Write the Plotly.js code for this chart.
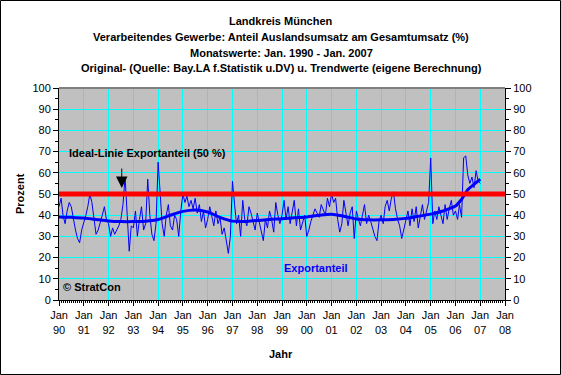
<!DOCTYPE html>
<html>
<head>
<meta charset="utf-8">
<script src="https://cdn.plot.ly/plotly-3.0.1.min.js"></script>
<style>html,body{margin:0;padding:0;background:#fff;}#chart{width:561px;height:375px;}</style>
</head>
<body>
<div id="chart"></div>
<script>
// Monthly export share (%), Jan 1990 - Jan 2007
const v1990 = [44, 48, 40, 36, 42, 46, 44, 38, 33, 29, 27, 33];
const v1991 = [36, 40, 44, 50, 46, 38, 31, 33, 36, 40, 44, 38];
const v1992 = [36, 30, 34, 31, 33, 35, 38, 45, 58, 40, 23, 35];
const v1993 = [34, 42, 30, 38, 44, 33, 36, 57, 40, 31, 28, 36];
const v1994 = [65, 50, 36, 30, 40, 45, 35, 33, 40, 38, 30, 42];
const v1995 = [50, 46, 49, 44, 47, 43, 48, 41, 45, 37, 42, 34];
const v1996 = [38, 44, 40, 35, 42, 36, 39, 31, 34, 27, 22, 30];
const v1997 = [56, 45, 36, 40, 30, 47, 38, 35, 44, 41, 37, 33];
const v1998 = [41, 36, 33, 28, 38, 34, 42, 38, 32, 46, 40, 36];
const v1999 = [40, 47, 38, 44, 36, 42, 47, 35, 43, 33, 37, 40];
const v2000 = [30, 33, 37, 40, 43, 41, 39, 45, 42, 40, 48, 44];
const v2001 = [50, 46, 48, 38, 32, 36, 47, 40, 35, 41, 44, 29];
const v2002 = [42, 38, 35, 40, 45, 36, 40, 37, 33, 30, 28, 37];
const v2003 = [40, 36, 44, 47, 42, 48, 51, 43, 38, 35, 29, 33];
const v2004 = [38, 42, 35, 43, 37, 44, 34, 40, 45, 38, 42, 46];
const v2005 = [67, 36, 42, 38, 44, 40, 36, 45, 38, 43, 47, 40];
const v2006 = [42, 38, 45, 39, 67, 68, 59, 55, 58, 53, 61, 56];
const v2007 = [55];

// Trend (own computation), read at anchor dates
const trendDates = ['1990-01-01','1990-07-01','1991-01-01','1991-07-01','1992-01-01','1992-07-01',
  '1993-01-01','1993-07-01','1994-01-01','1994-07-01','1995-01-01','1995-07-01','1996-01-01',
  '1996-07-01','1997-01-01','1997-07-01','1998-01-01','1998-07-01','1999-01-01','1999-07-01',
  '2000-01-01','2000-07-01','2001-01-01','2001-07-01','2002-01-01','2002-07-01','2003-01-01',
  '2003-07-01','2004-01-01','2004-07-01','2005-01-01','2005-07-01','2006-01-01','2006-04-01',
  '2006-07-01','2006-10-01','2007-01-01'];
const trendValues = [39.2, 39.0, 38.7, 38.0, 37.3, 37.0, 37.0, 37.2, 38.0, 40.0, 41.8, 42.5, 41.5,
  39.0, 37.2, 37.0, 37.5, 38.0, 38.3, 38.8, 39.2, 40.0, 40.5, 39.5, 38.2, 37.8, 37.8,
  38.0, 38.5, 39.5, 40.5, 42.0, 44.3, 47.5, 52.0, 54.5, 57.0];

// Ideal line (50 %)
const idealDates = ['1990-01-01', '2008-01-01'];
const idealValues = [50, 50];

// Tick labels
const tickYears = [1990,1991,1992,1993,1994,1995,1996,1997,1998,1999,2000,2001,2002,2003,2004,2005,2006,2007,2008];
const tickLabels = ['Jan<br>90','Jan<br>91','Jan<br>92','Jan<br>93','Jan<br>94','Jan<br>95','Jan<br>96','Jan<br>97','Jan<br>98','Jan<br>99','Jan<br>00','Jan<br>01','Jan<br>02','Jan<br>03','Jan<br>04','Jan<br>05','Jan<br>06','Jan<br>07','Jan<br>08'];

const origValues = [].concat(v1990,v1991,v1992,v1993,v1994,v1995,v1996,v1997,v1998,v1999,
  v2000,v2001,v2002,v2003,v2004,v2005,v2006,v2007);
const months = origValues.map((_, i) => {
  const y = 1990 + Math.floor(i / 12), m = i % 12 + 1;
  return y + '-' + String(m).padStart(2, '0') + '-01';
});
const tickVals = tickYears.map(y => y + '-01-01');

const FONT = 'Arial, "Liberation Sans", sans-serif';
const L = 59, R = 505, T = 88, B = 300;
const px = x => (x - L) / (R - L);
const py = y => (B - y) / (B - T);

const traces = [
  {x: months, y: origValues, type: 'scatter', mode: 'lines',
   line: {color: '#0000FF', width: 1}, hoverinfo: 'skip'},
  {x: trendDates, y: trendValues, type: 'scatter', mode: 'lines',
   line: {color: '#0000FF', width: 3, shape: 'spline', smoothing: 0.8}, hoverinfo: 'skip'},
  {x: idealDates, y: idealValues, type: 'scatter', mode: 'lines', yaxis: 'y2',
   line: {color: '#FF0000', width: 5}, hoverinfo: 'skip'}
];

const titleLines = [
  'Landkreis München',
  'Verarbeitendes Gewerbe: Anteil Auslandsumsatz am Gesamtumsatz (%)',
  'Monatswerte: Jan. 1990 - Jan. 2007',
  'Original- (Quelle: Bay.LA f.Statistik u.DV) u. Trendwerte (eigene Berechnung)'
];
const titleY = [21, 37, 53, 68];

const annotations = titleLines.map((t, i) => ({
  text: '<b>' + t + '</b>', xref: 'paper', yref: 'paper', x: px(281), y: py(titleY[i]),
  xanchor: 'center', yanchor: 'middle', showarrow: false,
  font: {family: FONT, size: 11, color: '#000'}
}));
annotations.push(
  {text: '<b>Prozent</b>', xref: 'paper', yref: 'paper', x: px(20), y: py(194), textangle: -90,
   xanchor: 'center', yanchor: 'middle', showarrow: false, font: {family: FONT, size: 11, color: '#000'}},
  {text: '<b>Jahr</b>', xref: 'paper', yref: 'paper', x: px(281), y: py(354),
   xanchor: 'center', yanchor: 'middle', showarrow: false, font: {family: FONT, size: 11, color: '#000'}},
  {text: '<b>Ideal-Linie Exportanteil (50 %)</b>', xref: 'paper', yref: 'paper', x: px(67), y: py(153),
   xanchor: 'left', yanchor: 'middle', showarrow: false, font: {family: FONT, size: 11, color: '#000'}},
  {text: '', x: '1992-07-14', y: 52.8, xref: 'x', yref: 'y', showarrow: true, ax: 0, ay: -21,
   arrowhead: 2, arrowsize: 2.3, arrowwidth: 1, arrowcolor: '#000'},
  {text: '<b>Exportanteil</b>', xref: 'paper', yref: 'paper', x: px(316), y: py(268),
   xanchor: 'center', yanchor: 'middle', showarrow: false, font: {family: FONT, size: 11, color: '#0000FF'}},
  {text: '<b>© StratCon</b>', xref: 'paper', yref: 'paper', x: px(61), y: py(287),
   xanchor: 'left', yanchor: 'middle', showarrow: false, font: {family: FONT, size: 11, color: '#000'}}
);

const shapes = [
  {type: 'line', xref: 'paper', yref: 'paper', x0: 0, x1: 1, y0: 1, y1: 1,
   line: {color: '#808080', width: 2}, layer: 'above'},
  {type: 'rect', xref: 'paper', yref: 'paper', x0: px(0.5), x1: px(560.5), y0: py(374.5), y1: py(0.5),
   line: {color: '#000', width: 1}, fillcolor: 'rgba(0,0,0,0)', layer: 'above'}
];

const yCommon = {
  range: [0, 100], dtick: 10, tick0: 0, ticks: 'outside', ticklen: 5, tickcolor: '#000', tickwidth: 1,
  showline: true, linecolor: '#000', linewidth: 1, zeroline: false, fixedrange: true,
  tickfont: {family: FONT, size: 11, color: '#000'},
  minor: {dtick: 5, ticks: 'outside', ticklen: 3, tickcolor: '#000', showgrid: false}
};

const layout = {
  width: 561, height: 375,
  margin: {l: L, r: 561 - R, t: T, b: 375 - B, pad: 0},
  paper_bgcolor: '#FFFFFF', plot_bgcolor: '#C0C0C0',
  showlegend: false,
  font: {family: FONT, size: 11, color: '#000'},
  xaxis: {
    type: 'date', range: ['1990-01-01', '2008-01-01'],
    tickmode: 'array', tickvals: tickVals, ticktext: tickLabels, tickangle: 0,
    ticks: 'outside', ticklen: 5, tickcolor: '#000', tickwidth: 1,
    showgrid: true, gridcolor: '#00FFFF', gridwidth: 1,
    showline: true, linecolor: '#000', linewidth: 1, zeroline: false,
    tickfont: {family: FONT, size: 11, color: '#000'},
    minor: {dtick: 'M1', ticks: 'outside', ticklen: 2, tickcolor: '#000', showgrid: false}
  },
  yaxis: Object.assign({}, yCommon, {side: 'left', showgrid: true, gridcolor: '#00FFFF', gridwidth: 1}),
  yaxis2: Object.assign({}, yCommon, {side: 'right', overlaying: 'y', showgrid: false}),
  annotations: annotations,
  shapes: shapes
};

Plotly.newPlot('chart', traces, layout, {staticPlot: true, displayModeBar: false});
</script>
</body>
</html>
